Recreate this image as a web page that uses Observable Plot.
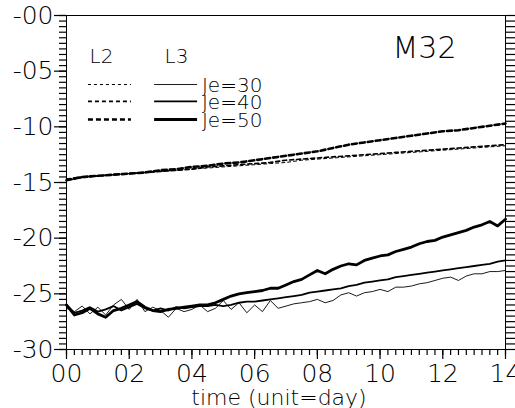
<!DOCTYPE html>
<html><head><meta charset="utf-8">
<script src="https://cdn.jsdelivr.net/npm/d3@7"></script>
<script src="https://cdn.jsdelivr.net/npm/@observablehq/plot@0.6"></script>
<style>html,body{margin:0;padding:0;background:#fff} svg{display:block}</style>
</head><body><div id="chart"></div>
<script>
// sampling interval (days)
const solidStep = 0.25;
const dashStep = 0.5;

// L3 (solid) series, every 0.25 day from 0 to 14
const l3Je30 = [-26.3,-26.6,-26.1,-26.8,-26.2,-26.9,-26.0,-25.5,-26.4,-25.5,-26.6,-26.2,-26.5,-27.1,-26.3,-26.6,-26.4,-26.0,-26.6,-26.3,
  -25.6,-26.4,-25.8,-26.7,-26.0,-26.6,-25.6,-26.3,-26.1,-25.9,-25.8,-25.7,-25.5,-25.8,-25.6,-25.1,-24.9,-25.2,-24.9,-24.8,
  -24.6,-24.8,-24.4,-24.4,-24.3,-24.1,-24.0,-23.8,-23.6,-23.5,-23.8,-23.4,-23.2,-23.2,-23.0,-23.0,-22.9];
const l3Je40 = [-26.0,-26.7,-26.5,-26.2,-26.6,-26.4,-26.1,-26.5,-26.2,-25.9,-26.3,-26.5,-26.3,-26.5,-26.2,-26.3,-26.2,-26.1,-26.1,-26.0,
  -26.1,-26.0,-25.8,-25.7,-25.7,-25.6,-25.5,-25.4,-25.3,-25.2,-25.1,-24.9,-24.8,-24.7,-24.6,-24.5,-24.3,-24.2,-24.0,-23.9,
  -23.8,-23.7,-23.5,-23.4,-23.3,-23.2,-23.1,-23.0,-22.9,-22.8,-22.7,-22.6,-22.5,-22.4,-22.3,-22.1,-22.0];
const l3Je50 = [-26.0,-26.9,-26.7,-26.3,-26.8,-27.1,-26.5,-26.3,-26.0,-25.7,-26.2,-26.5,-26.6,-26.4,-26.3,-26.2,-26.1,-26.0,-26.0,-25.8,
  -25.5,-25.2,-25.0,-24.9,-24.8,-24.7,-24.5,-24.5,-24.2,-23.9,-23.7,-23.3,-22.9,-23.2,-22.8,-22.5,-22.3,-22.4,-22.0,-21.8,
  -21.6,-21.5,-21.2,-21.0,-20.8,-20.5,-20.3,-20.2,-19.9,-19.7,-19.5,-19.3,-19.0,-18.8,-18.5,-18.9,-18.3];

// L2 (dashed) series, every 0.5 day from 0 to 14
const l2Je30 = [-14.8,-14.6,-14.4,-14.3,-14.2,-14.1,-14.0,-13.9,-13.8,-13.7,-13.6,-13.5,-13.4,-13.3,-13.2,-13.0,-12.9,-12.8,-12.7,-12.6,
  -12.5,-12.4,-12.3,-12.2,-12.1,-12.0,-11.9,-11.8,-11.7];
const l2Je40 = [-14.7,-14.5,-14.4,-14.3,-14.2,-14.1,-14.0,-13.9,-13.8,-13.6,-13.5,-13.4,-13.3,-13.2,-13.0,-12.9,-12.8,-12.7,-12.6,-12.5,
  -12.4,-12.3,-12.2,-12.1,-12.0,-11.9,-11.8,-11.7,-11.6];
const l2Je50 = [-14.8,-14.5,-14.4,-14.3,-14.2,-14.1,-13.9,-13.8,-13.6,-13.5,-13.3,-13.2,-13.0,-12.8,-12.6,-12.4,-12.2,-11.9,-11.6,-11.4,
  -11.2,-11.0,-10.8,-10.6,-10.4,-10.3,-10.1,-9.9,-9.7];

const seriesNames = ["Je=30", "Je=40", "Je=50"];
const xMajorTicks = [0, 2, 4, 6, 8, 10, 12, 14];
const yMajorTicks = [-30, -25, -20, -15, -10, -5, 0];
const titleText = "M32";
const legendHeads = ["L2", "L3"];
const xLabel = "time (unit=day)";

const xMinorTicks = d3.range(0, 14.001, 0.25);
const yMinorTicks = d3.range(-30, 0.001, 0.5);

function rows(values, step, name) {
  return values.map((v, i) => ({t: i * step, v, name}));
}
const solid = [l3Je30, l3Je40, l3Je50].map((a, i) => rows(a, solidStep, seriesNames[i]));
const dashed = [l2Je30, l2Je40, l2Je50].map((a, i) => rows(a, dashStep, seriesNames[i]));

const solidW = [0.9, 1.8, 2.8];
const dashW = [1.0, 1.7, 2.6];
const dashPat = ["3,3", "4,3", "5,3"];
const legendY = [-6.2, -7.72, -9.34];

const fmt2 = d => String(Math.abs(d)).padStart(2, "0");
const sans = "'DejaVu Sans', sans-serif";

const marks = [
  Plot.frame({stroke: "#000", strokeWidth: 1}),
  Plot.axisY({ticks: yMinorTicks, tickSize: 7, tickFormat: () => "", label: null, strokeWidth: 1.2}),
  Plot.axisY({ticks: yMajorTicks, tickSize: 12, tickPadding: 1, tickFormat: d => "-" + fmt2(d), fontSize: 25, fontFamily: sans, fontWeight: 200, label: null, strokeWidth: 1.2}),
  Plot.axisY({anchor: "right", ticks: yMinorTicks, tickSize: 10, tickFormat: () => "", label: null, strokeWidth: 1.2}),
  Plot.axisX({ticks: xMinorTicks, tickSize: 6, tickFormat: () => "", label: null, strokeWidth: 1.2}),
  Plot.axisX({ticks: xMajorTicks, tickSize: 10, tickPadding: 5, tickFormat: fmt2, fontSize: 25, fontFamily: sans, fontWeight: 200, label: null, strokeWidth: 1.2}),
  ...dashed.map((d, i) => Plot.line(d, {x: "t", y: "v", stroke: "#000", strokeWidth: dashW[i], strokeDasharray: dashPat[i]})),
  ...solid.map((d, i) => Plot.line(d, {x: "t", y: "v", stroke: "#000", strokeWidth: solidW[i]})),
  // legend
  ...seriesNames.map((n, i) => Plot.ruleY([legendY[i]], {x1: 0.70, x2: 2.07, stroke: "#000", strokeWidth: dashW[i], strokeDasharray: dashPat[i]})),
  ...seriesNames.map((n, i) => Plot.ruleY([legendY[i]], {x1: 2.81, x2: 4.18, stroke: "#000", strokeWidth: solidW[i]})),
  Plot.text(seriesNames, {x: 4.32, y: (d, i) => legendY[i], dy: 1, textAnchor: "start", lineAnchor: "middle", fontSize: 20, fontFamily: sans, fontWeight: 200, text: d => d}),
  Plot.text([legendHeads[0]], {frameAnchor: "top-left", dx: 35, dy: 41, textAnchor: "middle", lineAnchor: "middle", fontSize: 20, fontFamily: sans, fontWeight: 200, text: d => d}),
  Plot.text([legendHeads[1]], {frameAnchor: "top-left", dx: 110, dy: 41, textAnchor: "middle", lineAnchor: "middle", fontSize: 20, fontFamily: sans, fontWeight: 200, text: d => d}),
  Plot.text([titleText], {frameAnchor: "top-left", dx: 358, dy: 33, textAnchor: "middle", lineAnchor: "middle", fontSize: 30, fontFamily: sans, fontWeight: 200, text: d => d}),
  Plot.text([xLabel], {frameAnchor: "bottom", dx: -7, dy: 48, textAnchor: "middle", lineAnchor: "middle", fontSize: 22, fontFamily: sans, fontWeight: 200, text: d => d})
];

const chart = Plot.plot({
  width: 515, height: 408,
  marginLeft: 66, marginRight: 10, marginTop: 15, marginBottom: 59,
  style: {fontFamily: sans, background: "#fff", color: "#000", overflow: "visible"},
  x: {domain: [0, 14]},
  y: {domain: [-30, 0]},
  marks
});
document.getElementById("chart").append(chart);
</script>
</body></html>
